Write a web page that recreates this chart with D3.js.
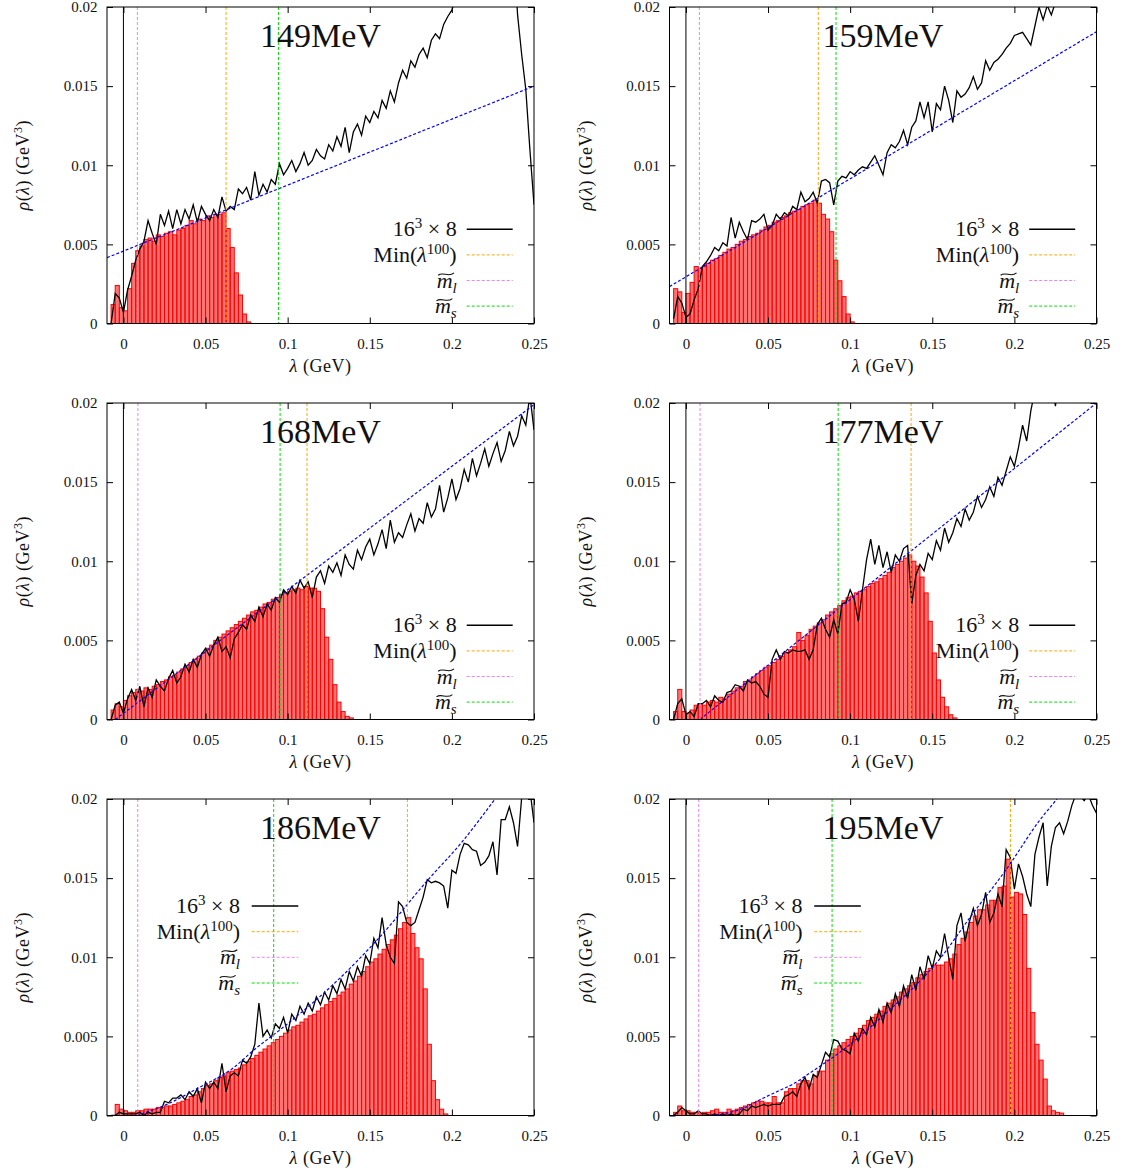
<!DOCTYPE html>
<html>
<head>
<meta charset="utf-8">
<script src="https://d3js.org/d3.v7.min.js"></script>
<style>
  body { margin: 0; background: #fff; }
  svg text { font-family: "Liberation Serif", "DejaVu Serif", serif; fill: #111; }
  .tick text { font-size: 15px; }
  .title { font-size: 34px; }
  .axlabel { font-size: 18px; letter-spacing: 0.5px; }
  .key { font-size: 22px; }
</style>
</head>
<body>
<script>
// axis ticks
var xTicks = [0, 0.05, 0.1, 0.15, 0.2, 0.25];
var xTickLabels = ["0", "0.05", "0.1", "0.15", "0.2", "0.25"];
var yTicks = [0, 0.005, 0.01, 0.015, 0.02];
var yTickLabels = ["0", "0.005", "0.01", "0.015", "0.02"];

var temps = ["149MeV", "159MeV", "168MeV", "177MeV", "186MeV", "195MeV"];

// histogram bins and line samples start at binStart, step binWidth (GeV)
var binStart = -0.0075, binWidth = 0.0025;

// vertical markers (GeV)
var minLam = [0.0625, 0.0806, 0.1118, 0.1371, 0.1729, 0.1976];
var mlLam  = [0.0085, 0.0082, 0.0088, 0.0086, 0.0087, 0.0078];
var msLam  = [0.0944, 0.0914, 0.0954, 0.0927, 0.0915, 0.0890];

// histograms (red bars)
var hist149 = [0.0012,0.0024,0.0010,0.0008,0.0022,0.0038,0.0046,0.0049,0.0053,0.0054,
  0.0052,0.0056,0.0055,0.0057,0.0058,0.0056,0.0059,0.0060,0.0062,0.0065,
  0.0063,0.0066,0.0065,0.0068,0.0067,0.0069,0.0069,0.0070,0.0060,0.0048,
  0.0032,0.0018,0.0006,0.0001];
var hist159 = [0.0022,0.0020,0.0007,0.0019,0.0026,0.0036,0.0035,0.0036,0.0038,0.0040,
  0.0041,0.0043,0.0045,0.0047,0.0048,0.0050,0.0052,0.0053,0.0055,0.0056,
  0.0057,0.0059,0.0061,0.0062,0.0064,0.0065,0.0067,0.0068,0.0070,0.0071,
  0.0072,0.0074,0.0075,0.0076,0.0078,0.0076,0.0069,0.0066,0.0058,0.0040,
  0.0027,0.0017,0.0006,0.0001];
var hist168 = [0.0006,0.0010,0.0008,0.0012,0.0015,0.0017,0.0019,0.0018,0.0020,0.0019,
  0.0021,0.0022,0.0024,0.0025,0.0027,0.0028,0.0030,0.0032,0.0034,0.0036,
  0.0038,0.0040,0.0042,0.0045,0.0047,0.0050,0.0052,0.0054,0.0056,0.0058,
  0.0060,0.0062,0.0064,0.0066,0.0068,0.0069,0.0071,0.0073,0.0074,0.0076,
  0.0077,0.0079,0.0080,0.0081,0.0082,0.0083,0.0082,0.0084,0.0083,0.0083,
  0.0081,0.0070,0.0052,0.0038,0.0022,0.0011,0.0005,0.0002,0.0001];
var hist177 = [0.0005,0.0019,0.0005,0.0004,0.0006,0.0009,0.0010,0.0009,0.0011,0.0012,
  0.0011,0.0014,0.0013,0.0016,0.0018,0.0020,0.0021,0.0024,0.0025,0.0027,
  0.0029,0.0031,0.0033,0.0034,0.0036,0.0038,0.0040,0.0042,0.0044,0.0046,
  0.0055,0.0050,0.0053,0.0057,0.0059,0.0061,0.0063,0.0066,0.0068,0.0070,
  0.0072,0.0075,0.0077,0.0078,0.0080,0.0081,0.0082,0.0084,0.0086,0.0087,
  0.0089,0.0091,0.0093,0.0096,0.0098,0.0100,0.0102,0.0104,0.0100,0.0097,
  0.0090,0.0080,0.0062,0.0042,0.0025,0.0014,0.0008,0.0003,0.0001];
var hist186 = [0.0000,0.0007,0.0004,0.0003,0.0002,0.0002,0.0003,0.0003,0.0004,0.0004,
  0.0004,0.0005,0.0005,0.0006,0.0006,0.0007,0.0008,0.0009,0.0010,0.0012,
  0.0013,0.0015,0.0017,0.0019,0.0020,0.0022,0.0024,0.0025,0.0027,0.0028,
  0.0029,0.0030,0.0032,0.0034,0.0036,0.0038,0.0040,0.0042,0.0044,0.0046,
  0.0048,0.0050,0.0052,0.0054,0.0056,0.0057,0.0059,0.0061,0.0063,0.0064,
  0.0066,0.0068,0.0070,0.0072,0.0074,0.0076,0.0078,0.0080,0.0083,0.0085,
  0.0088,0.0091,0.0094,0.0097,0.0099,0.0102,0.0105,0.0108,0.0111,0.0114,
  0.0118,0.0122,0.0125,0.0115,0.0106,0.0099,0.0080,0.0045,0.0022,0.0010,
  0.0004,0.0001];
var hist195 = [0.0002,0.0006,0.0003,0.0003,0.0002,0.0002,0.0001,0.0002,0.0002,0.0003,
  0.0004,0.0002,0.0002,0.0004,0.0003,0.0004,0.0005,0.0006,0.0007,0.0008,
  0.0009,0.0009,0.0008,0.0008,0.0012,0.0008,0.0008,0.0015,0.0017,0.0017,
  0.0020,0.0022,0.0022,0.0020,0.0025,0.0028,0.0028,0.0035,0.0039,0.0042,
  0.0044,0.0046,0.0048,0.0050,0.0052,0.0055,0.0057,0.0060,0.0062,0.0064,
  0.0066,0.0069,0.0071,0.0073,0.0075,0.0078,0.0080,0.0082,0.0084,0.0087,
  0.0089,0.0091,0.0093,0.0095,0.0095,0.0095,0.0097,0.0099,0.0102,0.0108,
  0.0112,0.0116,0.0122,0.0126,0.0130,0.0130,0.0133,0.0136,0.0136,0.0144,
  0.0145,0.0162,0.0138,0.0141,0.0140,0.0127,0.0093,0.0065,0.0045,0.0035,
  0.0023,0.0006,0.0003,0.0002,0.00015];

// 16^3 x 8 spectral density (black line)
var rho149 = [0.0000,0.0019,0.0016,0.0007,0.0021,0.0030,0.0040,0.0047,0.0052,0.0065,
  0.0057,0.0050,0.0069,0.0062,0.0071,0.0060,0.0072,0.0063,0.0072,0.0066,
  0.0075,0.0064,0.0074,0.0069,0.0065,0.0072,0.0067,0.0080,0.0071,0.0074,
  0.0072,0.0085,0.0082,0.0086,0.0078,0.0096,0.0081,0.0088,0.0083,0.0091,
  0.0088,0.0101,0.0094,0.0098,0.0103,0.0096,0.0101,0.0108,0.0100,0.0103,
  0.0110,0.0106,0.0104,0.0113,0.0109,0.0118,0.0112,0.0124,0.0108,0.0121,
  0.0126,0.0119,0.0131,0.0127,0.0134,0.0130,0.0141,0.0136,0.0147,0.0140,
  0.0152,0.0160,0.0155,0.0166,0.0162,0.0170,0.0174,0.0168,0.0179,0.0183,
  0.0180,0.0189,0.0194,0.0198,0.0207,0.0225,0.0232,0.0240,0.0236,0.0248,
  0.0255,0.0250,0.0262,0.0258,0.0265,0.0260,0.0270,0.0262,0.0240,0.0195,
  0.0170,0.0148,0.0110,0.0075];
var rho159 = [0.0003,0.0017,0.0013,0.0004,0.0006,0.0015,0.0022,0.0036,0.0039,0.0043,
  0.0048,0.0046,0.0051,0.0049,0.0067,0.0054,0.0064,0.0058,0.0053,0.0065,
  0.0064,0.0066,0.0069,0.0059,0.0062,0.0069,0.0066,0.0070,0.0068,0.0074,
  0.0072,0.0083,0.0077,0.0079,0.0083,0.0076,0.0090,0.0091,0.0089,0.0075,
  0.0090,0.0093,0.0092,0.0096,0.0094,0.0097,0.0099,0.0098,0.0102,0.0106,
  0.0100,0.0094,0.0108,0.0113,0.0111,0.0115,0.0122,0.0113,0.0124,0.0128,
  0.0140,0.0130,0.0140,0.0121,0.0139,0.0135,0.0150,0.0141,0.0127,0.0147,
  0.0143,0.0145,0.0149,0.0156,0.0148,0.0152,0.0166,0.0160,0.0165,0.0167,
  0.0170,0.0174,0.0177,0.0182,0.0183,0.0184,0.0180,0.0176,0.0188,0.0200,
  0.0192,0.0201,0.0195,0.0203,0.0215,0.0222,0.0230,0.0226,0.0238,0.0245,
  0.0240,0.0252,0.0258,0.0262];
var rho168 = [0.0000,0.0009,0.0011,0.0004,0.0013,0.0019,0.0012,0.0021,0.0008,0.0020,
  0.0014,0.0025,0.0021,0.0018,0.0026,0.0031,0.0023,0.0027,0.0035,0.0030,
  0.0038,0.0033,0.0041,0.0045,0.0040,0.0047,0.0052,0.0043,0.0046,0.0039,
  0.0051,0.0055,0.0060,0.0057,0.0066,0.0062,0.0071,0.0065,0.0073,0.0069,
  0.0077,0.0074,0.0082,0.0079,0.0084,0.0080,0.0088,0.0083,0.0087,0.0077,
  0.0090,0.0094,0.0086,0.0097,0.0093,0.0099,0.0091,0.0104,0.0098,0.0095,
  0.0107,0.0101,0.0109,0.0114,0.0104,0.0111,0.0120,0.0108,0.0126,0.0112,
  0.0118,0.0115,0.0123,0.0130,0.0119,0.0127,0.0124,0.0137,0.0128,0.0133,
  0.0148,0.0131,0.0140,0.0152,0.0139,0.0146,0.0158,0.0150,0.0165,0.0154,
  0.0162,0.0171,0.0160,0.0168,0.0175,0.0163,0.0170,0.0182,0.0173,0.0179,
  0.0192,0.0186,0.0205,0.0183];
var rho177 = [0.0000,0.0010,0.0013,0.0003,0.0005,0.0002,0.0010,0.0010,0.0012,0.0008,
  0.0015,0.0012,0.0011,0.0017,0.0018,0.0022,0.0021,0.0018,0.0025,0.0023,
  0.0024,0.0021,0.0016,0.0014,0.0038,0.0044,0.0038,0.0043,0.0042,0.0044,
  0.0043,0.0043,0.0044,0.0038,0.0044,0.0060,0.0064,0.0057,0.0052,0.0063,
  0.0054,0.0073,0.0074,0.0082,0.0076,0.0062,0.0082,0.0101,0.0114,0.0098,
  0.0110,0.0096,0.0106,0.0093,0.0104,0.0100,0.0108,0.0110,0.0073,0.0091,
  0.0098,0.0094,0.0105,0.0101,0.0113,0.0107,0.0121,0.0112,0.0118,0.0127,
  0.0122,0.0133,0.0126,0.0131,0.0141,0.0134,0.0139,0.0147,0.0141,0.0153,
  0.0148,0.0157,0.0166,0.0160,0.0172,0.0186,0.0176,0.0195,0.0208,0.0221,
  0.0212,0.0230,0.0215,0.0198,0.0222,0.0240,0.0230,0.0245,0.0236,0.0250,
  0.0244,0.0252,0.0248,0.0255];
var rho186 = [0.0000,0.0000,0.0002,0.0001,0.0001,0.0001,0.0001,0.0002,0.0000,0.0002,
  0.0001,0.0002,0.0002,0.0009,0.0008,0.0011,0.0011,0.0013,0.0010,0.0015,
  0.0012,0.0017,0.0008,0.0021,0.0017,0.0021,0.0017,0.0033,0.0015,0.0025,
  0.0027,0.0025,0.0035,0.0033,0.0037,0.0045,0.0071,0.0050,0.0054,0.0049,
  0.0058,0.0055,0.0062,0.0052,0.0064,0.0060,0.0069,0.0064,0.0071,0.0066,
  0.0075,0.0070,0.0078,0.0073,0.0082,0.0077,0.0086,0.0080,0.0091,0.0085,
  0.0094,0.0088,0.0101,0.0096,0.0112,0.0106,0.0125,0.0108,0.0100,0.0096,
  0.0135,0.0132,0.0122,0.0120,0.0122,0.0130,0.0138,0.0149,0.0147,0.0148,
  0.0147,0.0145,0.0131,0.0155,0.0153,0.0165,0.0172,0.0171,0.0168,0.0167,
  0.0158,0.0160,0.0164,0.0173,0.0152,0.0187,0.0187,0.0195,0.0185,0.0170,
  0.0201,0.0201,0.0206,0.0185];
var rho195 = [0.0000,0.0002,0.0005,0.0003,0.0001,0.0001,0.0003,0.0001,0.0001,0.0000,
  0.0001,0.0000,0.0001,0.0000,0.0001,0.0000,0.0001,0.0004,0.0003,0.0006,
  0.0005,0.0006,0.0007,0.0006,0.0007,0.0007,0.0007,0.0012,0.0013,0.0015,
  0.0012,0.0020,0.0024,0.0017,0.0026,0.0024,0.0032,0.0040,0.0037,0.0048,
  0.0047,0.0042,0.0041,0.0039,0.0052,0.0047,0.0055,0.0051,0.0062,0.0056,
  0.0067,0.0059,0.0071,0.0065,0.0077,0.0069,0.0082,0.0074,0.0089,0.0079,
  0.0094,0.0086,0.0101,0.0093,0.0104,0.0100,0.0115,0.0100,0.0086,0.0120,
  0.0128,0.0110,0.0122,0.0131,0.0120,0.0127,0.0141,0.0122,0.0128,0.0140,
  0.0132,0.0168,0.0163,0.0143,0.0159,0.0151,0.0140,0.0132,0.0165,0.0176,
  0.0185,0.0145,0.0170,0.0182,0.0185,0.0178,0.0186,0.0196,0.0203,0.0202,
  0.0199,0.0203,0.0196,0.0191];

// fitted curves (blue dashed), [lambda, rho]
var fit149 = [[-0.01, 0.00416], [0.25, 0.0150]];
var fit159 = [[-0.01, 0.00233], [0.25, 0.01844]];
var fit168 = [[-0.005, 0], [0.25, 0.0199]];
var fit177 = [[0.0085, 0], [0.25, 0.0200]];
var fit186 = [[0.008, 0], [0.0264, 0.0007], [0.0467, 0.0018], [0.0668, 0.0030], [0.079, 0.0041],
  [0.1, 0.0058], [0.13, 0.0085], [0.1563, 0.0113], [0.1855, 0.0149], [0.2055, 0.0172],
  [0.2263, 0.0200], [0.235, 0.0212]];
var fit195 = [[0.012, 0], [0.0248, 0.00015], [0.035, 0.00046], [0.0451, 0.0010], [0.0553, 0.0015],
  [0.0654, 0.0020], [0.0756, 0.0027], [0.0857, 0.0034], [0.0938, 0.0040], [0.12, 0.0063],
  [0.1546, 0.0099], [0.175, 0.0128], [0.1954, 0.0156], [0.2157, 0.0187], [0.2258, 0.0200],
  [0.235, 0.0214]];

var hists = [hist149, hist159, hist168, hist177, hist186, hist195];
var rhos = [rho149, rho159, rho168, rho177, rho186, rho195];
var fits = [fit149, fit159, fit168, fit177, fit186, fit195];
var keyPos = ["right", "right", "right", "right", "left", "left"];

var width = 1123, height = 1176;
var colX = [107, 669.5], rowY = [7, 403, 799];
var pw = 427, ph = 316.5;

var svg = d3.select("body").append("svg")
  .attr("width", width)
  .attr("height", height);

var x = d3.scaleLinear().domain([-0.01, 0.25]).range([0, pw]);
var y = d3.scaleLinear().domain([0, 0.02]).range([ph, 0]);

var keyColors = ["#000", "#ffa500", "#ee82ee", "#00e000"];

temps.forEach(function(title, k) {
  var g = svg.append("g")
    .attr("transform", "translate(" + [colX[k % 2], rowY[Math.floor(k / 2)]] + ")");

  var clipId = "clip" + k;
  g.append("clipPath").attr("id", clipId)
    .append("rect").attr("width", pw).attr("height", ph);
  var plot = g.append("g").attr("clip-path", "url(#" + clipId + ")");

  // histogram
  plot.selectAll("rect.bar")
    .data(hists[k])
    .enter()
    .append("rect")
    .attr("class", "bar")
    .attr("x", function(d, i) { return x(binStart + i * binWidth); })
    .attr("width", x(binWidth) - x(0))
    .attr("y", function(d) { return y(d); })
    .attr("height", function(d) { return ph - y(d); })
    .attr("fill", "#ff0000")
    .attr("fill-opacity", 0.55)
    .attr("stroke", "#ff0000")
    .attr("stroke-width", 1);

  // black line
  var line = d3.line()
    .x(function(d, i) { return x(binStart + i * binWidth); })
    .y(function(d) { return y(d); });
  plot.append("path")
    .datum(rhos[k])
    .attr("d", line)
    .attr("fill", "none")
    .attr("stroke", "#000")
    .attr("stroke-width", 1.3);

  // fit
  var fitLine = d3.line()
    .x(function(d) { return x(d[0]); })
    .y(function(d) { return y(d[1]); })
    .curve(d3.curveMonotoneX);
  plot.append("path")
    .datum(fits[k])
    .attr("d", fitLine)
    .attr("fill", "none")
    .attr("stroke", "#0000ff")
    .attr("stroke-width", 1.2)
    .attr("stroke-dasharray", "3,2");

  // vertical markers
  var vlines = [
    { v: 0, c: "#000", dash: null },
    { v: minLam[k], c: keyColors[1], dash: "3,2" },
    { v: mlLam[k], c: keyColors[2], dash: "3,2" },
    { v: msLam[k], c: keyColors[3], dash: "3,2" }
  ];
  plot.selectAll("line.vl")
    .data(vlines)
    .enter()
    .append("line")
    .attr("x1", function(d) { return x(d.v); })
    .attr("x2", function(d) { return x(d.v); })
    .attr("y1", 0)
    .attr("y2", ph)
    .attr("stroke", function(d) { return d.c; })
    .attr("stroke-width", 1)
    .attr("stroke-dasharray", function(d) { return d.dash; });

  // axes, ticks inward on all sides
  g.append("g")
    .attr("transform", "translate(0," + ph + ")")
    .call(d3.axisBottom(x).tickValues(xTicks)
      .tickFormat(function(d, i) { return xTickLabels[i]; })
      .tickSize(-6).tickPadding(15))
    .call(function(a) { a.select(".domain").remove(); });
  g.append("g")
    .call(d3.axisTop(x).tickValues(xTicks).tickFormat("").tickSize(-6))
    .call(function(a) { a.select(".domain").remove(); });
  g.append("g")
    .call(d3.axisLeft(y).tickValues(yTicks)
      .tickFormat(function(d, i) { return yTickLabels[i]; })
      .tickSize(-6).tickPadding(9.5))
    .call(function(a) { a.select(".domain").remove(); });
  g.append("g")
    .attr("transform", "translate(" + pw + ",0)")
    .call(d3.axisRight(y).tickValues(yTicks).tickFormat("").tickSize(-6))
    .call(function(a) { a.select(".domain").remove(); });

  g.append("rect")
    .attr("width", pw).attr("height", ph)
    .attr("fill", "none").attr("stroke", "#000").attr("stroke-width", 1);

  // title
  g.append("text")
    .attr("class", "title")
    .attr("x", pw / 2).attr("y", 40)
    .attr("text-anchor", "middle")
    .text(title);

  // axis titles
  var xl = g.append("text")
    .attr("class", "axlabel")
    .attr("x", pw / 2).attr("y", ph + 48)
    .attr("text-anchor", "middle");
  xl.append("tspan").attr("font-style", "italic").text("λ");
  xl.append("tspan").text(" (GeV)");

  var yl = g.append("text")
    .attr("class", "axlabel")
    .attr("transform", "translate(" + [-78, ph / 2] + ") rotate(-90)")
    .attr("text-anchor", "middle");
  yl.append("tspan").attr("font-style", "italic").text("ρ");
  yl.append("tspan").text("(");
  yl.append("tspan").attr("font-style", "italic").text("λ");
  yl.append("tspan").text(") (GeV");
  yl.append("tspan").attr("dy", -7).attr("font-size", 12).text("3");
  yl.append("tspan").attr("dy", 7).text(")");

  // key
  var kp = keyPos[k] === "right"
    ? { tx: pw - 77.3, x1: pw - 67.3, x2: pw - 21.3, rows: [222.3, 247.9, 273.5, 299.1] }
    : { tx: 133, x1: 144.7, x2: 191.3, rows: [107, 132.7, 158.3, 184] };

  kp.rows.forEach(function(ry, j) {
    g.append("line")
      .attr("x1", kp.x1).attr("x2", kp.x2)
      .attr("y1", ry).attr("y2", ry)
      .attr("stroke", keyColors[j])
      .attr("stroke-width", j === 0 ? 1.4 : 1)
      .attr("stroke-dasharray", j === 0 ? null : "3,2");

    var t = g.append("text")
      .attr("class", "key")
      .attr("x", kp.tx).attr("y", ry + 7)
      .attr("text-anchor", "end");
    if (j === 0) {
      t.append("tspan").text("16");
      t.append("tspan").attr("dy", -8).attr("font-size", 15).text("3");
      t.append("tspan").attr("dy", 8).text(" × 8");
    } else if (j === 1) {
      t.append("tspan").text("Min(");
      t.append("tspan").attr("font-style", "italic").text("λ");
      t.append("tspan").attr("dy", -8).attr("font-size", 15).text("100");
      t.append("tspan").attr("dy", 8).text(")");
    } else {
      t.append("tspan").attr("font-style", "italic").text("m");
      t.append("tspan").attr("dy", 5).attr("font-size", 15)
        .attr("font-style", "italic").text(j === 2 ? "l" : "s");
      // wide tilde over m
      var r = t.node().getExtentOfChar(0);
      var x0 = r.x + 1.5, w = r.width, y0 = r.y + r.height * 0.25;
      g.append("path")
        .attr("d", "M" + x0 + "," + (y0 + 1.5) +
          " C" + (x0 + w * 0.3) + "," + (y0 - 2.5) + " " +
          (x0 + w * 0.65) + "," + (y0 + 4) + " " + (x0 + w) + "," + (y0 - 0.8))
        .attr("fill", "none")
        .attr("stroke", "#111")
        .attr("stroke-width", 1.1);
    }
  });
});
</script>
</body>
</html>
